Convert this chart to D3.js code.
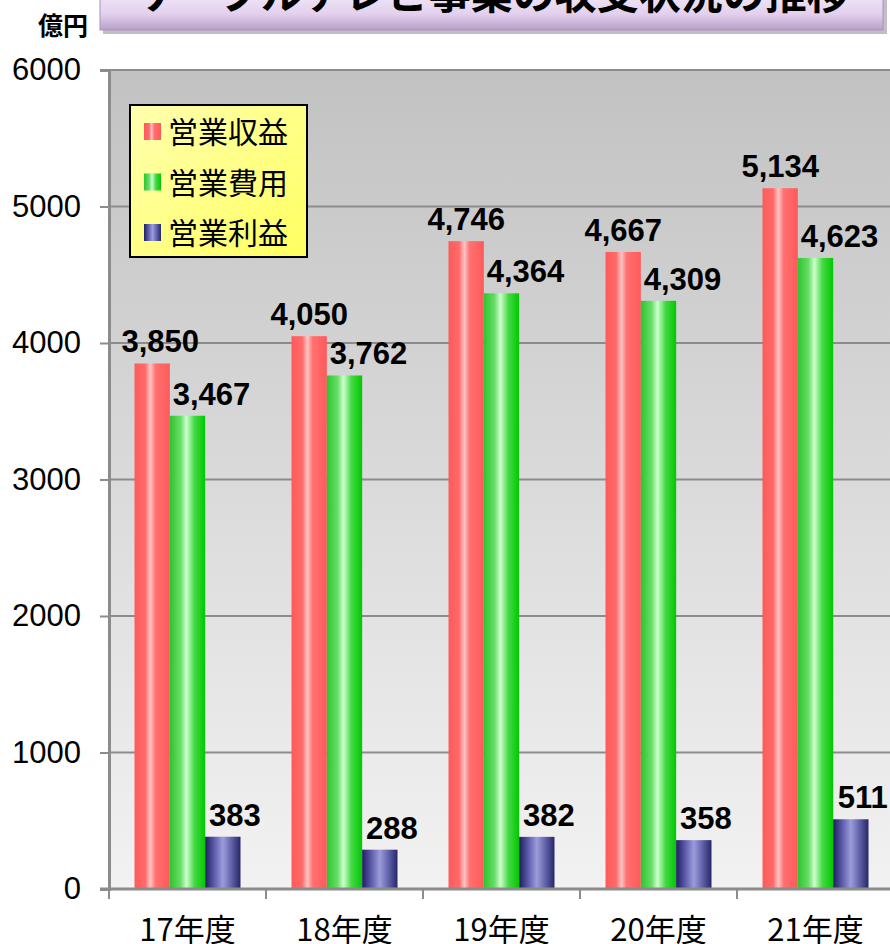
<!DOCTYPE html>
<html><head><meta charset="utf-8">
<script src="https://cdn.jsdelivr.net/npm/d3@7"></script>
<style>
html,body{margin:0;padding:0;background:#fff;overflow:hidden;}
svg{display:block;font-family:"Liberation Sans",Arial,sans-serif;}
</style></head>
<body><svg id="c" width="890" height="944"></svg>
<script>
const categories = ["17年度","18年度","19年度","20年度","21年度"];
const seriesNames = ["営業収益","営業費用","営業利益"];
const revenue = [3850,4050,4746,4667,5134];
const expense = [3467,3762,4364,4309,4623];
const profit = [383,288,382,358,511];
const yTicks = [0,1000,2000,3000,4000,5000,6000];
const titleText = "ケーブルテレビ事業の収支状況の推移";
const unitText = "億円";

const svg = d3.select("#c");
const defs = svg.append("defs");
const m = {left:109, top:70, right:894, bottom:889};

function lin(id, stops, x2, y2){
  const g = defs.append("linearGradient").attr("id",id).attr("x1",0).attr("y1",0).attr("x2",x2).attr("y2",y2);
  stops.forEach(s=>g.append("stop").attr("offset",s[0]).attr("stop-color",s[1]));
}
lin("bg",[[0,"#c2c2c2"],[1,"#f2f2f2"]],0,1);
lin("gRed",[[0,"#ff5a5a"],[0.3,"#ff6a6a"],[0.45,"#ffc4c4"],[0.6,"#ff7070"],[1,"#ff5a5a"]],1,0);
lin("gGreen",[[0,"#2ec42e"],[0.3,"#66dd66"],[0.47,"#ccffcc"],[0.7,"#44d844"],[1,"#00c800"]],1,0);
lin("gBlue",[[0,"#1e1e60"],[0.25,"#5a5aa8"],[0.5,"#9c9cdc"],[0.75,"#6060a8"],[1,"#262668"]],1,0);
lin("gLegend",[[0,"#ffffb0"],[1,"#ffff60"]],1,1);
lin("gTitle",[[0,"#f4ecfa"],[0.6,"#e2d0ee"],[1,"#b8a0c8"]],0,1);
const fills = ["url(#gRed)","url(#gGreen)","url(#gBlue)"];
const seriesData = [revenue, expense, profit];

// title
svg.append("rect").attr("x",103).attr("y",-10).attr("width",784).attr("height",44).attr("fill","#8a7a96").attr("opacity",0.5);
svg.append("rect").attr("x",100).attr("y",-10).attr("width",783).attr("height",40).attr("fill","url(#gTitle)").attr("stroke","#a894b8").attr("stroke-width",1);
svg.append("text").attr("x",493).attr("y",9).attr("text-anchor","middle")
  .attr("font-family","'Noto Sans CJK JP',sans-serif").attr("font-weight","bold").attr("font-size",42).attr("fill","#000").text(titleText);
svg.append("text").attr("x",88).attr("y",35).attr("text-anchor","end")
  .attr("font-family","'Noto Sans CJK JP',sans-serif").attr("font-weight","bold").attr("font-size",25).attr("fill","#000").text(unitText);

const y = d3.scaleLinear().domain([0,6000]).range([m.bottom,m.top]);
const x0 = d3.scaleBand().domain(categories).range([m.left,m.right]).paddingInner(0.325).paddingOuter(0.1625);
const x1 = d3.scaleBand().domain(seriesNames).range([0,x0.bandwidth()]);

svg.append("rect").attr("x",m.left).attr("y",m.top).attr("width",m.right-m.left).attr("height",m.bottom-m.top).attr("fill","url(#bg)");
svg.append("g").selectAll("line").data(yTicks.filter(d=>d>0)).join("line")
  .attr("x1",m.left).attr("x2",m.right).attr("y1",d=>y(d)).attr("y2",d=>y(d))
  .attr("stroke","#8c8c8c").attr("stroke-width",2);

const groups = svg.append("g").selectAll("g").data(categories).join("g").attr("transform",c=>`translate(${x0(c)},0)`);
seriesNames.forEach((s,si)=>{
  groups.append("rect").attr("x",x1(s)).attr("width",x1.bandwidth())
    .attr("y",(c,i)=>y(seriesData[si][i])).attr("height",(c,i)=>y(0)-y(seriesData[si][i]))
    .attr("fill",fills[si]);
});
const dx = [0,24,12];
seriesNames.forEach((s,si)=>{
  groups.append("text").attr("x",(c,i)=>x1(s)+x1.bandwidth()/2+dx[si]+(si===0&&i===0?8:0))
    .attr("y",(c,i)=>y(seriesData[si][i])-11).attr("text-anchor","middle")
    .attr("font-weight","bold").attr("font-size",31).attr("fill","#000")
    .text((c,i)=>d3.format(",")(seriesData[si][i]));
});

const yAxis = svg.append("g").attr("transform",`translate(${m.left},0)`)
  .call(d3.axisLeft(y).tickValues(yTicks).tickSize(9).tickFormat(d3.format("d")));
yAxis.select(".domain").attr("stroke","#8c8c8c").attr("stroke-width",3);
yAxis.selectAll(".tick line").attr("stroke","#8c8c8c").attr("stroke-width",2);
yAxis.selectAll("text").attr("font-size",31).attr("fill","#000").attr("x",-28).attr("font-family","'Liberation Sans',Arial,sans-serif");

const tickPos = categories.map(c=>x0(c)-x0.step()*x0.paddingInner()/2);
const xg = svg.append("g");
xg.append("line").attr("x1",m.left-9).attr("x2",m.right).attr("y1",m.bottom).attr("y2",m.bottom).attr("stroke","#8c8c8c").attr("stroke-width",3);
xg.selectAll("line.t").data(tickPos).join("line").attr("class","t")
  .attr("x1",d=>d).attr("x2",d=>d).attr("y1",m.bottom).attr("y2",m.bottom+10).attr("stroke","#8c8c8c").attr("stroke-width",2);
xg.selectAll("text").data(categories).join("text")
  .attr("x",c=>x0(c)+x0.bandwidth()/2).attr("y",941).attr("text-anchor","middle")
  .attr("font-family","'Noto Sans CJK JP',sans-serif").attr("font-size",31).attr("fill","#000").text(c=>c);

const lg = svg.append("g");
lg.append("rect").attr("x",130).attr("y",105).attr("width",177).attr("height",152).attr("fill","url(#gLegend)").attr("stroke","#000").attr("stroke-width",2);
seriesNames.forEach((s,si)=>{
  const yy = 131 + si*50.5;
  lg.append("rect").attr("x",144).attr("y",yy-8).attr("width",17).attr("height",17).attr("fill",fills[si]);
  lg.append("text").attr("x",168).attr("y",yy+12).attr("font-family","'Noto Sans CJK JP',sans-serif")
    .attr("font-size",30).attr("fill","#000").text(s);
});
</script></body></html>
